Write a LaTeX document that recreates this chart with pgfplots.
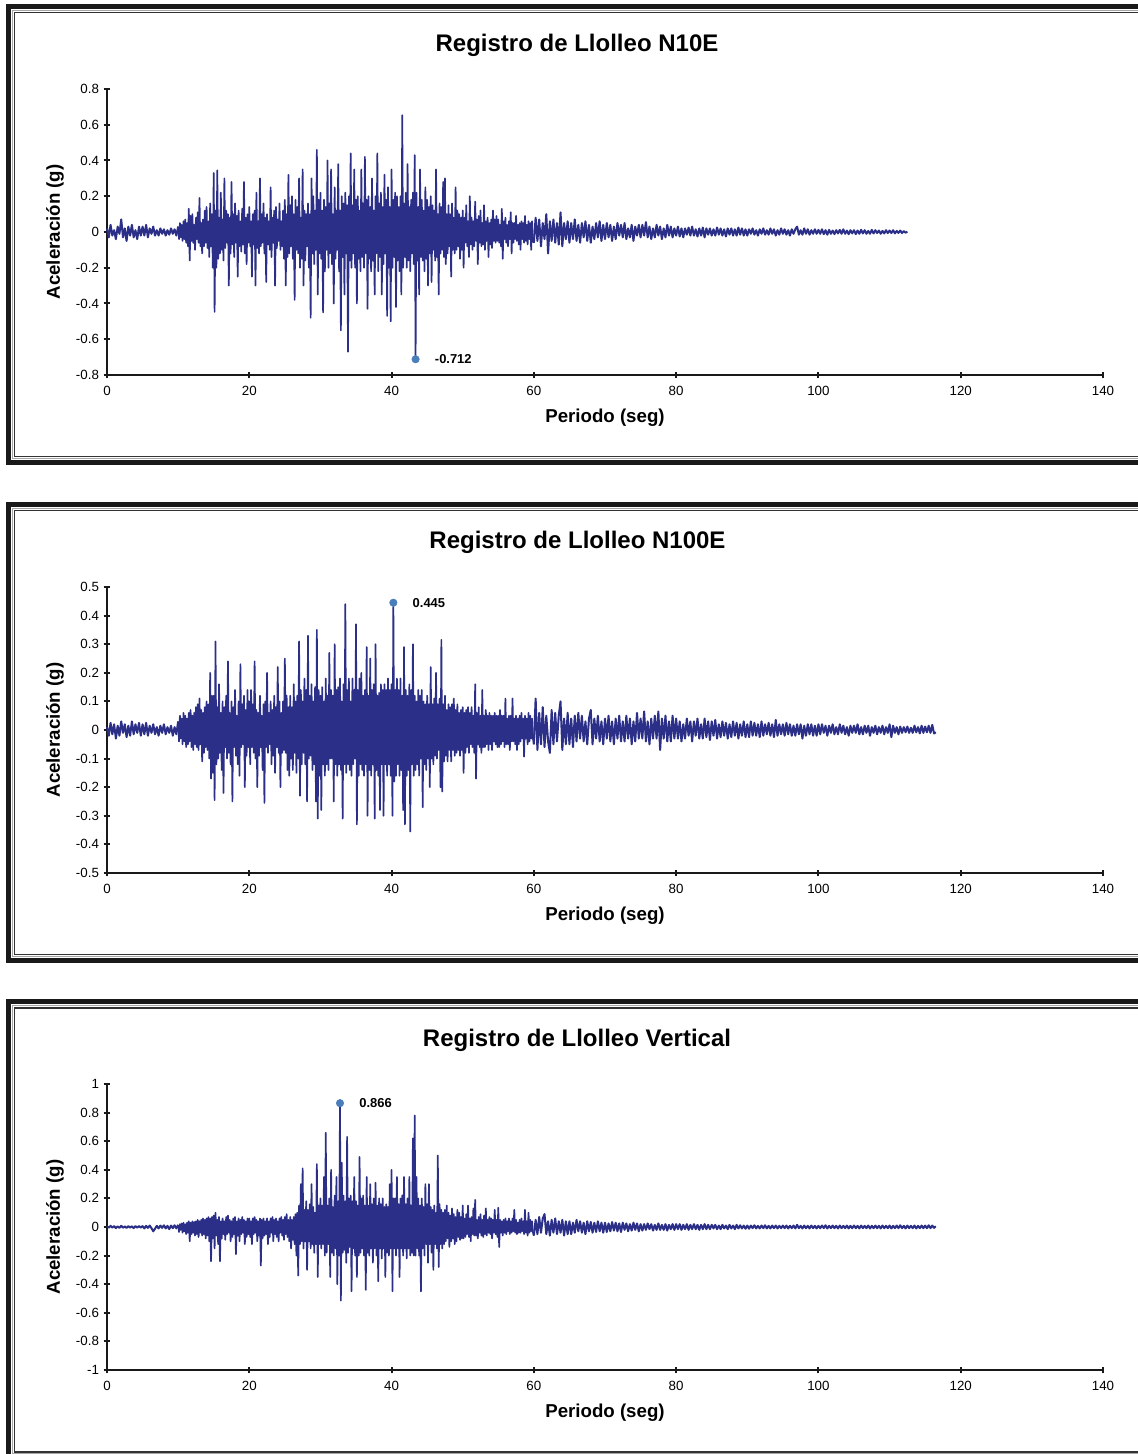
\documentclass[border=0pt]{standalone}
\usepackage{fontspec}
\setmainfont{Liberation Sans}
\usepackage{pgfplots}
\usepackage{pgfplotstable}
\pgfplotsset{compat=1.18}
\definecolor{seis}{RGB}{43,47,135}
\definecolor{peak}{RGB}{74,126,187}

% ===== Llolleo N10E =====
% 0-10 s, dt = 0.25 s
\pgfplotstableread[row sep=\\,header=false]{
0.02\\ -0.03\\ 0.04\\ -0.02\\ 0.01\\ -0.04\\ 0.03\\ -0.01\\ 0.07\\ -0.03\\ 0.02\\ -0.05\\ 0.03\\ -0.02\\ 0.04\\ -0.03\\ 0.01\\ -0.04\\ 0.03\\ -0.02\\
0.03\\ -0.02\\ 0.04\\ -0.03\\ 0.02\\ -0.01\\ 0.03\\ -0.02\\ 0.01\\ -0.02\\ 0.02\\ -0.01\\ 0.015\\ -0.02\\ 0.01\\ -0.015\\ 0.02\\ -0.01\\ 0.015\\ -0.02\\
0.03\\
}\dataAa
% 10-60 s, dt = 0.125 s
\pgfplotstableread[row sep=\\,header=false]{
0.03\\ -0.04\\ 0.05\\ -0.03\\ 0.04\\ -0.05\\ 0.06\\ -0.04\\ 0.07\\ -0.06\\ 0.05\\ -0.08\\ 0.13\\ -0.16\\ 0.09\\ -0.05\\ 0.1\\ -0.06\\ 0.04\\ -0.1\\ 0.08\\ -0.04\\ 0.11\\ -0.06\\ 0.19\\ -0.08\\ 0.05\\ -0.12\\ 0.07\\ -0.08\\ 0.12\\ -0.06\\ 0.14\\ -0.09\\ 0.06\\ -0.14\\ 0.16\\ -0.08\\ 0.1\\ -0.2\\
0.33\\ -0.447\\ 0.12\\ -0.2\\ 0.345\\ -0.15\\ 0.08\\ -0.12\\ 0.22\\ -0.1\\ 0.07\\ -0.16\\ 0.3\\ -0.09\\ 0.12\\ -0.06\\ 0.1\\ -0.3\\ 0.08\\ -0.12\\ 0.28\\ -0.07\\ 0.1\\ -0.14\\ 0.16\\ -0.06\\ 0.09\\ -0.25\\ 0.12\\ -0.08\\ 0.06\\ -0.11\\ 0.13\\ -0.07\\ 0.28\\ -0.12\\ 0.08\\ -0.18\\ 0.1\\ -0.06\\
0.14\\ -0.08\\ 0.06\\ -0.25\\ 0.1\\ -0.07\\ 0.12\\ -0.3\\ 0.22\\ -0.09\\ 0.06\\ -0.12\\ 0.3\\ -0.08\\ 0.1\\ -0.06\\ 0.16\\ -0.12\\ 0.08\\ -0.28\\ 0.1\\ -0.07\\ 0.06\\ -0.1\\ 0.25\\ -0.14\\ 0.08\\ -0.06\\ 0.12\\ -0.3\\ 0.14\\ -0.09\\ 0.07\\ -0.05\\ 0.16\\ -0.1\\ 0.06\\ -0.08\\ 0.12\\ -0.15\\
0.18\\ -0.3\\ 0.1\\ -0.14\\ 0.32\\ -0.12\\ 0.15\\ -0.08\\ 0.2\\ -0.15\\ 0.1\\ -0.38\\ 0.18\\ -0.1\\ 0.14\\ -0.12\\ 0.3\\ -0.2\\ 0.08\\ -0.15\\ 0.35\\ -0.3\\ 0.12\\ -0.16\\ 0.1\\ -0.08\\ 0.16\\ -0.2\\ 0.1\\ -0.48\\ 0.3\\ -0.12\\ 0.2\\ -0.18\\ 0.12\\ -0.1\\ 0.46\\ -0.35\\ 0.18\\ -0.12\\
0.22\\ -0.15\\ 0.12\\ -0.45\\ 0.18\\ -0.22\\ 0.14\\ -0.1\\ 0.4\\ -0.2\\ 0.16\\ -0.12\\ 0.35\\ -0.18\\ 0.1\\ -0.4\\ 0.25\\ -0.15\\ 0.12\\ -0.1\\ 0.38\\ -0.22\\ 0.12\\ -0.55\\ 0.2\\ -0.14\\ 0.16\\ -0.35\\ 0.22\\ -0.12\\ 0.15\\ -0.67\\ 0.2\\ -0.16\\ 0.44\\ -0.2\\ 0.15\\ -0.12\\ 0.35\\ -0.2\\
0.18\\ -0.4\\ 0.2\\ -0.15\\ 0.12\\ -0.22\\ 0.35\\ -0.14\\ 0.16\\ -0.2\\ 0.42\\ -0.12\\ 0.18\\ -0.43\\ 0.2\\ -0.15\\ 0.14\\ -0.22\\ 0.3\\ -0.16\\ 0.12\\ -0.35\\ 0.2\\ -0.12\\ 0.44\\ -0.22\\ 0.16\\ -0.14\\ 0.22\\ -0.35\\ 0.14\\ -0.18\\ 0.32\\ -0.12\\ 0.18\\ -0.47\\ 0.25\\ -0.2\\ 0.14\\ -0.5\\
0.35\\ -0.2\\ 0.18\\ -0.14\\ 0.22\\ -0.42\\ 0.2\\ -0.16\\ 0.14\\ -0.22\\ 0.2\\ -0.35\\ 0.653\\ -0.2\\ 0.16\\ -0.14\\ 0.22\\ -0.2\\ 0.38\\ -0.16\\ 0.14\\ -0.22\\ 0.18\\ -0.12\\ 0.22\\ -0.18\\ 0.43\\ -0.712\\ 0.22\\ -0.16\\ 0.14\\ -0.35\\ 0.35\\ -0.14\\ 0.18\\ -0.16\\ 0.12\\ -0.22\\ 0.25\\ -0.15\\
0.18\\ -0.3\\ 0.14\\ -0.12\\ 0.2\\ -0.28\\ 0.15\\ -0.1\\ 0.12\\ -0.16\\ 0.35\\ -0.14\\ 0.1\\ -0.35\\ 0.16\\ -0.12\\ 0.14\\ -0.1\\ 0.28\\ -0.14\\ 0.3\\ -0.18\\ 0.1\\ -0.12\\ 0.15\\ -0.08\\ 0.1\\ -0.25\\ 0.16\\ -0.1\\ 0.08\\ -0.12\\ 0.25\\ -0.1\\ 0.12\\ -0.08\\ 0.1\\ -0.15\\ 0.08\\ -0.1\\
0.12\\ -0.2\\ 0.08\\ -0.06\\ 0.15\\ -0.08\\ 0.06\\ -0.14\\ 0.2\\ -0.07\\ 0.08\\ -0.1\\ 0.06\\ -0.08\\ 0.17\\ -0.05\\ 0.07\\ -0.18\\ 0.09\\ -0.06\\ 0.12\\ -0.08\\ 0.05\\ -0.07\\ 0.15\\ -0.1\\ 0.06\\ -0.05\\ 0.08\\ -0.14\\ 0.05\\ -0.07\\ 0.07\\ -0.09\\ 0.12\\ -0.05\\ 0.07\\ -0.06\\ 0.09\\ -0.05\\
0.07\\ -0.06\\ 0.04\\ -0.08\\ 0.13\\ -0.15\\ 0.06\\ -0.04\\ 0.08\\ -0.06\\ 0.04\\ -0.08\\ 0.06\\ -0.04\\ 0.11\\ -0.12\\ 0.05\\ -0.06\\ 0.05\\ -0.04\\ 0.09\\ -0.05\\ 0.04\\ -0.07\\ 0.05\\ -0.1\\ 0.06\\ -0.04\\ 0.05\\ -0.06\\ 0.09\\ -0.05\\ 0.04\\ -0.07\\ 0.06\\ -0.04\\ 0.05\\ -0.1\\ 0.06\\ -0.05\\
-0.06\\
}\dataAb
% 60-112.5 s, dt = 0.25 s
\pgfplotstableread[row sep=\\,header=false]{
-0.06\\ 0.08\\ -0.05\\ 0.07\\ -0.08\\ 0.05\\ -0.04\\ 0.1\\ -0.12\\ 0.06\\ -0.05\\ 0.07\\ -0.06\\ 0.05\\ -0.07\\ 0.11\\ -0.08\\ 0.05\\ -0.04\\ 0.06\\
-0.06\\ 0.05\\ -0.04\\ 0.07\\ -0.05\\ 0.04\\ -0.06\\ 0.05\\ -0.03\\ 0.06\\ -0.05\\ 0.04\\ -0.06\\ 0.03\\ -0.04\\ 0.05\\ -0.03\\ 0.06\\ -0.05\\ 0.04\\
-0.04\\ 0.05\\ -0.03\\ 0.04\\ -0.05\\ 0.03\\ -0.04\\ 0.05\\ -0.02\\ 0.04\\ -0.03\\ 0.05\\ -0.04\\ 0.02\\ -0.03\\ 0.04\\ -0.05\\ 0.03\\ -0.02\\ 0.04\\
-0.03\\ 0.04\\ -0.02\\ 0.055\\ -0.03\\ 0.03\\ -0.04\\ 0.02\\ -0.03\\ 0.04\\ -0.02\\ 0.03\\ -0.04\\ 0.02\\ -0.03\\ 0.04\\ -0.02\\ 0.03\\ -0.03\\ 0.02\\
-0.02\\ 0.03\\ -0.025\\ 0.02\\ -0.03\\ 0.02\\ -0.015\\ 0.025\\ -0.02\\ 0.03\\ -0.02\\ 0.015\\ -0.025\\ 0.02\\ -0.02\\ 0.025\\ -0.03\\ 0.02\\ -0.015\\ 0.02\\
-0.02\\ 0.015\\ -0.02\\ 0.025\\ -0.015\\ 0.02\\ -0.02\\ 0.015\\ -0.025\\ 0.02\\ -0.015\\ 0.02\\ -0.02\\ 0.015\\ -0.02\\ 0.025\\ -0.015\\ 0.02\\ -0.02\\ 0.015\\
-0.02\\ 0.015\\ -0.01\\ 0.02\\ -0.015\\ 0.01\\ -0.02\\ 0.015\\ -0.01\\ 0.02\\ -0.015\\ 0.01\\ -0.015\\ 0.02\\ -0.01\\ 0.015\\ -0.02\\ 0.01\\ -0.015\\ 0.02\\
-0.01\\ 0.015\\ -0.015\\ 0.01\\ -0.02\\ 0.015\\ -0.01\\ 0.015\\ 0.03\\ -0.015\\ 0.01\\ -0.015\\ 0.02\\ -0.01\\ 0.015\\ -0.015\\ 0.01\\ -0.01\\ 0.015\\ -0.01\\
0.012\\ -0.01\\ 0.015\\ -0.012\\ 0.01\\ -0.015\\ 0.012\\ -0.01\\ 0.008\\ -0.012\\ 0.01\\ -0.008\\ 0.012\\ -0.01\\ 0.015\\ -0.01\\ 0.008\\ -0.012\\ 0.01\\ -0.008\\
0.01\\ -0.012\\ 0.008\\ -0.01\\ 0.012\\ -0.008\\ 0.01\\ -0.01\\ 0.006\\ -0.01\\ 0.012\\ -0.008\\ 0.01\\ -0.006\\ 0.008\\ -0.01\\ 0.006\\ -0.008\\ 0.01\\ -0.006\\
0.008\\ -0.006\\ 0.01\\ -0.008\\ 0.006\\ -0.005\\ 0.008\\ -0.006\\ 0.005\\ -0.004\\ 0.002\\
}\dataAc

% ===== Llolleo N100E =====
\pgfplotstableread[row sep=\\,header=false]{
0.01\\ -0.02\\ 0.025\\ -0.015\\ 0.02\\ -0.03\\ 0.015\\ -0.02\\ 0.03\\ -0.01\\ 0.02\\ -0.025\\ 0.015\\ -0.02\\ 0.03\\ -0.015\\ 0.02\\ -0.01\\ 0.025\\ -0.02\\
0.02\\ -0.015\\ 0.025\\ -0.02\\ 0.015\\ -0.01\\ 0.02\\ -0.015\\ 0.01\\ -0.02\\ 0.015\\ -0.01\\ 0.02\\ -0.015\\ 0.01\\ -0.01\\ 0.015\\ -0.02\\ 0.01\\ -0.015\\
0.03\\
}\dataBa
\pgfplotstableread[row sep=\\,header=false]{
0.03\\ -0.04\\ 0.05\\ -0.03\\ 0.04\\ -0.05\\ 0.06\\ -0.04\\ 0.05\\ -0.06\\ 0.04\\ -0.05\\ 0.06\\ -0.04\\ 0.07\\ -0.06\\ 0.05\\ -0.07\\ 0.06\\ -0.05\\ 0.08\\ -0.06\\ 0.09\\ -0.07\\ 0.11\\ -0.05\\ 0.07\\ -0.11\\ 0.06\\ -0.08\\ 0.08\\ -0.06\\ 0.1\\ -0.07\\ 0.09\\ -0.1\\ 0.2\\ -0.17\\ 0.12\\ -0.15\\
0.12\\ -0.245\\ 0.31\\ -0.12\\ 0.08\\ -0.1\\ 0.16\\ -0.08\\ 0.06\\ -0.14\\ 0.1\\ -0.22\\ 0.08\\ -0.06\\ 0.12\\ -0.1\\ 0.24\\ -0.08\\ 0.06\\ -0.12\\ 0.1\\ -0.25\\ 0.08\\ -0.06\\ 0.14\\ -0.09\\ 0.05\\ -0.12\\ 0.1\\ -0.16\\ 0.23\\ -0.06\\ 0.09\\ -0.05\\ 0.12\\ -0.2\\ 0.07\\ -0.09\\ 0.14\\ -0.06\\
0.1\\ -0.12\\ 0.14\\ -0.06\\ 0.09\\ -0.08\\ 0.24\\ -0.1\\ 0.07\\ -0.2\\ 0.06\\ -0.09\\ 0.12\\ -0.06\\ 0.05\\ -0.14\\ 0.09\\ -0.255\\ 0.1\\ -0.06\\ 0.2\\ -0.08\\ 0.06\\ -0.05\\ 0.1\\ -0.12\\ 0.07\\ -0.09\\ 0.12\\ -0.15\\ 0.08\\ -0.06\\ 0.22\\ -0.08\\ 0.1\\ -0.2\\ 0.06\\ -0.08\\ 0.1\\ -0.07\\
0.25\\ -0.08\\ 0.12\\ -0.14\\ 0.08\\ -0.16\\ 0.12\\ -0.1\\ 0.08\\ -0.14\\ 0.16\\ -0.08\\ 0.1\\ -0.15\\ 0.12\\ -0.1\\ 0.31\\ -0.23\\ 0.14\\ -0.12\\ 0.1\\ -0.08\\ 0.18\\ -0.12\\ 0.14\\ -0.25\\ 0.33\\ -0.1\\ 0.12\\ -0.09\\ 0.16\\ -0.14\\ 0.1\\ -0.12\\ 0.15\\ -0.25\\ 0.35\\ -0.31\\ 0.14\\ -0.16\\
0.12\\ -0.28\\ 0.15\\ -0.12\\ 0.1\\ -0.16\\ 0.18\\ -0.12\\ 0.12\\ -0.14\\ 0.27\\ -0.1\\ 0.14\\ -0.1\\ 0.12\\ -0.25\\ 0.3\\ -0.12\\ 0.14\\ -0.16\\ 0.15\\ -0.12\\ 0.18\\ -0.14\\ 0.1\\ -0.31\\ 0.16\\ -0.12\\ 0.44\\ -0.15\\ 0.14\\ -0.12\\ 0.18\\ -0.14\\ 0.1\\ -0.16\\ 0.18\\ -0.12\\ 0.14\\ -0.1\\
0.37\\ -0.33\\ 0.14\\ -0.16\\ 0.18\\ -0.12\\ 0.2\\ -0.14\\ 0.12\\ -0.16\\ 0.14\\ -0.12\\ 0.29\\ -0.3\\ 0.12\\ -0.14\\ 0.25\\ -0.16\\ 0.14\\ -0.12\\ 0.16\\ -0.31\\ 0.3\\ -0.14\\ 0.12\\ -0.16\\ 0.13\\ -0.28\\ 0.16\\ -0.12\\ 0.14\\ -0.3\\ 0.16\\ -0.12\\ 0.14\\ -0.16\\ 0.18\\ -0.12\\ 0.14\\ -0.16\\
0.16\\ -0.3\\ 0.445\\ -0.18\\ 0.14\\ -0.16\\ 0.18\\ -0.12\\ 0.14\\ -0.16\\ 0.18\\ -0.14\\ 0.12\\ -0.28\\ 0.29\\ -0.33\\ 0.14\\ -0.16\\ 0.12\\ -0.14\\ 0.16\\ -0.355\\ 0.14\\ -0.12\\ 0.3\\ -0.16\\ 0.12\\ -0.14\\ 0.1\\ -0.12\\ 0.14\\ -0.16\\ 0.12\\ -0.1\\ 0.14\\ -0.27\\ 0.1\\ -0.12\\ 0.09\\ -0.14\\
0.12\\ -0.1\\ 0.09\\ -0.2\\ 0.22\\ -0.1\\ 0.09\\ -0.12\\ 0.11\\ -0.09\\ 0.2\\ -0.1\\ 0.09\\ -0.07\\ 0.11\\ -0.2\\ 0.315\\ -0.215\\ 0.09\\ -0.11\\ 0.12\\ -0.09\\ 0.07\\ -0.11\\ 0.09\\ -0.07\\ 0.08\\ -0.11\\ 0.09\\ -0.07\\ 0.11\\ -0.09\\ 0.07\\ -0.08\\ 0.09\\ -0.07\\ 0.06\\ -0.09\\ 0.07\\ -0.07\\
0.08\\ -0.15\\ 0.06\\ -0.08\\ 0.07\\ -0.06\\ 0.08\\ -0.08\\ 0.06\\ -0.05\\ 0.08\\ -0.06\\ 0.05\\ -0.08\\ 0.16\\ -0.17\\ 0.06\\ -0.05\\ 0.08\\ -0.06\\ 0.05\\ -0.08\\ 0.14\\ -0.06\\ 0.05\\ -0.06\\ 0.07\\ -0.05\\ 0.05\\ -0.07\\ 0.06\\ -0.05\\ 0.05\\ -0.07\\ 0.05\\ -0.04\\ 0.06\\ -0.05\\ 0.05\\ -0.06\\
0.05\\ -0.06\\ 0.07\\ -0.05\\ 0.05\\ -0.04\\ 0.05\\ -0.06\\ 0.11\\ -0.05\\ 0.04\\ -0.05\\ 0.05\\ -0.07\\ 0.05\\ -0.04\\ 0.11\\ -0.04\\ 0.04\\ -0.05\\ 0.05\\ -0.07\\ 0.04\\ -0.05\\ 0.05\\ -0.04\\ 0.06\\ -0.03\\ 0.04\\ -0.093\\ 0.05\\ -0.03\\ 0.04\\ -0.05\\ 0.06\\ -0.04\\ 0.05\\ -0.03\\ 0.04\\ -0.03\\
-0.05\\
}\dataBb
\pgfplotstableread[row sep=\\,header=false]{
-0.05\\ 0.11\\ -0.07\\ 0.06\\ -0.05\\ 0.08\\ -0.06\\ 0.05\\ -0.04\\ -0.08\\ 0.07\\ -0.05\\ 0.06\\ -0.04\\ 0.05\\ 0.1\\ -0.07\\ 0.04\\ -0.05\\ 0.06\\
-0.05\\ 0.04\\ -0.06\\ 0.05\\ -0.04\\ 0.06\\ -0.03\\ 0.05\\ -0.04\\ 0.03\\ -0.05\\ 0.04\\ 0.07\\ -0.05\\ 0.04\\ -0.03\\ 0.05\\ -0.04\\ 0.03\\ -0.05\\
0.04\\ -0.03\\ 0.05\\ -0.04\\ 0.03\\ -0.05\\ 0.04\\ -0.03\\ 0.05\\ -0.04\\ 0.03\\ -0.04\\ 0.05\\ -0.03\\ 0.04\\ -0.05\\ 0.03\\ -0.04\\ 0.06\\ -0.03\\
0.04\\ -0.03\\ 0.065\\ -0.04\\ 0.03\\ -0.05\\ 0.04\\ -0.03\\ 0.05\\ -0.03\\ 0.065\\ -0.07\\ 0.04\\ -0.03\\ 0.05\\ -0.04\\ 0.03\\ -0.04\\ 0.05\\ -0.03\\
0.04\\ -0.03\\ 0.03\\ -0.04\\ 0.02\\ -0.03\\ 0.04\\ -0.02\\ 0.03\\ -0.04\\ 0.03\\ -0.02\\ 0.04\\ -0.03\\ 0.02\\ -0.03\\ 0.04\\ -0.025\\ 0.03\\ -0.035\\
0.03\\ -0.02\\ 0.035\\ -0.03\\ 0.02\\ -0.025\\ 0.03\\ -0.02\\ 0.025\\ -0.03\\ 0.02\\ -0.025\\ 0.03\\ -0.02\\ 0.025\\ -0.03\\ 0.02\\ -0.02\\ 0.03\\ -0.025\\
0.02\\ -0.025\\ 0.03\\ -0.02\\ 0.025\\ -0.02\\ 0.02\\ -0.025\\ 0.03\\ -0.02\\ 0.02\\ -0.015\\ 0.025\\ -0.02\\ 0.02\\ -0.025\\ 0.035\\ -0.02\\ 0.02\\ -0.015\\
0.02\\ -0.02\\ 0.025\\ -0.015\\ 0.02\\ -0.02\\ 0.015\\ -0.02\\ 0.02\\ -0.015\\ 0.02\\ -0.03\\ 0.015\\ -0.02\\ 0.02\\ -0.015\\ 0.02\\ -0.02\\ 0.015\\ -0.02\\
0.02\\ -0.015\\ 0.02\\ -0.01\\ 0.015\\ -0.02\\ 0.015\\ -0.01\\ 0.02\\ -0.015\\ 0.01\\ -0.015\\ 0.02\\ -0.01\\ 0.015\\ -0.015\\ 0.01\\ -0.02\\ 0.015\\ -0.01\\
0.015\\ -0.01\\ 0.02\\ -0.015\\ 0.01\\ -0.015\\ 0.015\\ -0.01\\ 0.015\\ -0.02\\ 0.01\\ -0.01\\ 0.015\\ -0.015\\ 0.01\\ -0.01\\ 0.015\\ -0.015\\ 0.01\\ -0.01\\
0.02\\ -0.025\\ 0.015\\ -0.01\\ 0.01\\ -0.015\\ 0.012\\ -0.01\\ 0.01\\ -0.008\\ 0.012\\ -0.01\\ 0.008\\ -0.01\\ 0.015\\ -0.008\\ 0.01\\ -0.012\\ 0.015\\ -0.01\\
0.012\\ -0.008\\ 0.015\\ -0.01\\ 0.018\\ -0.012\\ -0.008\\
}\dataBc

% ===== Llolleo Vertical =====
\pgfplotstableread[row sep=\\,header=false]{
0.005\\ -0.005\\ 0.008\\ -0.004\\ 0.006\\ -0.008\\ 0.004\\ -0.006\\ 0.008\\ -0.005\\ 0.004\\ -0.007\\ 0.006\\ -0.004\\ 0.005\\ -0.008\\ 0.006\\ -0.005\\ 0.007\\ -0.004\\
0.006\\ -0.01\\ 0.008\\ -0.006\\ 0.01\\ -0.008\\ -0.03\\ -0.012\\ 0.008\\ -0.01\\ 0.01\\ -0.006\\ 0.012\\ -0.01\\ 0.008\\ -0.015\\ 0.01\\ -0.008\\ 0.012\\ -0.01\\
0.015\\
}\dataCa
\pgfplotstableread[row sep=\\,header=false]{
0.015\\ -0.035\\ 0.02\\ -0.02\\ 0.025\\ -0.04\\ 0.03\\ -0.03\\ 0.02\\ -0.05\\ 0.03\\ -0.04\\ 0.04\\ -0.1\\ 0.03\\ -0.05\\ 0.04\\ -0.04\\ 0.035\\ -0.06\\ 0.04\\ -0.05\\ 0.05\\ -0.07\\ 0.04\\ -0.04\\ 0.05\\ -0.06\\ 0.06\\ -0.05\\ 0.05\\ -0.08\\ 0.06\\ -0.06\\ 0.07\\ -0.1\\ 0.06\\ -0.24\\ 0.07\\ -0.08\\
0.08\\ -0.15\\ 0.1\\ -0.06\\ 0.05\\ -0.12\\ 0.07\\ -0.24\\ 0.04\\ -0.08\\ 0.06\\ -0.05\\ 0.04\\ -0.09\\ 0.07\\ -0.05\\ 0.08\\ -0.04\\ 0.05\\ -0.1\\ 0.04\\ -0.07\\ 0.06\\ -0.05\\ 0.07\\ -0.19\\ 0.04\\ -0.06\\ 0.06\\ -0.1\\ 0.05\\ -0.05\\ 0.07\\ -0.04\\ 0.05\\ -0.12\\ 0.04\\ -0.07\\ 0.06\\ -0.05\\
0.06\\ -0.07\\ 0.04\\ -0.12\\ 0.06\\ -0.05\\ 0.07\\ -0.04\\ 0.05\\ -0.1\\ 0.04\\ -0.06\\ 0.06\\ -0.27\\ 0.05\\ -0.08\\ 0.06\\ -0.06\\ 0.04\\ -0.05\\ 0.06\\ -0.12\\ 0.04\\ -0.07\\ 0.06\\ -0.04\\ 0.07\\ -0.1\\ 0.05\\ -0.05\\ 0.06\\ -0.07\\ 0.04\\ -0.1\\ 0.06\\ -0.04\\ 0.07\\ -0.06\\ 0.05\\ -0.09\\
0.07\\ -0.05\\ 0.09\\ -0.07\\ 0.05\\ -0.1\\ 0.07\\ -0.15\\ 0.05\\ -0.09\\ 0.07\\ -0.12\\ 0.09\\ -0.2\\ 0.1\\ -0.34\\ 0.15\\ -0.12\\ 0.3\\ -0.1\\ 0.41\\ -0.15\\ 0.12\\ -0.1\\ 0.18\\ -0.3\\ 0.12\\ -0.1\\ 0.16\\ -0.15\\ 0.3\\ -0.12\\ 0.14\\ -0.18\\ 0.1\\ -0.12\\ 0.44\\ -0.35\\ 0.15\\ -0.12\\
0.2\\ -0.15\\ 0.15\\ -0.12\\ 0.35\\ -0.2\\ 0.66\\ -0.18\\ 0.15\\ -0.12\\ 0.2\\ -0.35\\ 0.4\\ -0.18\\ 0.14\\ -0.2\\ 0.22\\ -0.15\\ 0.35\\ -0.4\\ 0.18\\ -0.2\\ 0.866\\ -0.515\\ 0.45\\ -0.18\\ 0.22\\ -0.16\\ 0.18\\ -0.25\\ 0.63\\ -0.18\\ 0.2\\ -0.14\\ 0.22\\ -0.45\\ 0.18\\ -0.15\\ 0.35\\ -0.2\\
0.18\\ -0.35\\ 0.15\\ -0.2\\ 0.49\\ -0.18\\ 0.2\\ -0.15\\ 0.22\\ -0.2\\ 0.15\\ -0.44\\ 0.35\\ -0.18\\ 0.15\\ -0.2\\ 0.3\\ -0.15\\ 0.16\\ -0.25\\ 0.2\\ -0.15\\ 0.31\\ -0.2\\ 0.15\\ -0.38\\ 0.2\\ -0.15\\ 0.16\\ -0.22\\ 0.2\\ -0.15\\ 0.14\\ -0.35\\ 0.16\\ -0.18\\ 0.14\\ -0.2\\ 0.3\\ -0.15\\
0.4\\ -0.45\\ 0.2\\ -0.15\\ 0.2\\ -0.2\\ 0.35\\ -0.15\\ 0.16\\ -0.35\\ 0.2\\ -0.15\\ 0.22\\ -0.2\\ 0.35\\ -0.15\\ 0.16\\ -0.22\\ 0.2\\ -0.15\\ 0.35\\ -0.2\\ 0.15\\ -0.18\\ 0.62\\ -0.2\\ 0.78\\ -0.2\\ 0.35\\ -0.15\\ 0.2\\ -0.2\\ 0.15\\ -0.45\\ 0.2\\ -0.15\\ 0.14\\ -0.2\\ 0.3\\ -0.12\\
0.16\\ -0.25\\ 0.3\\ -0.12\\ 0.14\\ -0.18\\ 0.12\\ -0.3\\ 0.15\\ -0.12\\ 0.1\\ -0.15\\ 0.5\\ -0.28\\ 0.16\\ -0.12\\ 0.12\\ -0.15\\ 0.1\\ -0.12\\ 0.12\\ -0.1\\ 0.15\\ -0.08\\ 0.1\\ -0.14\\ 0.08\\ -0.1\\ 0.13\\ -0.08\\ 0.09\\ -0.12\\ 0.07\\ -0.1\\ 0.12\\ -0.07\\ 0.1\\ -0.09\\ 0.07\\ -0.08\\
0.15\\ -0.08\\ 0.06\\ -0.07\\ 0.09\\ -0.05\\ 0.15\\ -0.07\\ 0.06\\ -0.1\\ 0.07\\ -0.05\\ 0.13\\ -0.06\\ 0.19\\ -0.06\\ 0.05\\ -0.08\\ 0.07\\ -0.04\\ 0.09\\ -0.06\\ 0.05\\ -0.07\\ 0.08\\ -0.05\\ 0.13\\ -0.06\\ 0.05\\ -0.04\\ 0.07\\ -0.05\\ 0.06\\ -0.08\\ 0.05\\ -0.04\\ 0.12\\ -0.05\\ 0.05\\ -0.07\\
0.135\\ -0.14\\ 0.05\\ -0.04\\ 0.04\\ -0.06\\ 0.05\\ -0.04\\ 0.06\\ -0.05\\ 0.04\\ -0.03\\ 0.06\\ -0.05\\ 0.04\\ -0.04\\ 0.06\\ -0.03\\ 0.12\\ -0.04\\ 0.05\\ -0.05\\ 0.03\\ -0.04\\ 0.05\\ -0.04\\ 0.06\\ -0.03\\ 0.04\\ -0.05\\ 0.12\\ -0.04\\ 0.04\\ -0.06\\ 0.1\\ -0.04\\ 0.05\\ -0.03\\ 0.04\\ -0.04\\
-0.06\\
}\dataCb
\pgfplotstableread[row sep=\\,header=false]{
-0.06\\ 0.05\\ -0.05\\ 0.07\\ -0.04\\ 0.06\\ 0.09\\ -0.05\\ 0.04\\ -0.06\\ 0.05\\ -0.04\\ 0.06\\ -0.05\\ 0.04\\ -0.04\\ 0.05\\ -0.06\\ 0.04\\ -0.05\\
0.04\\ -0.05\\ 0.03\\ -0.04\\ 0.05\\ -0.03\\ 0.04\\ -0.04\\ 0.03\\ -0.05\\ 0.04\\ -0.03\\ 0.035\\ -0.04\\ 0.03\\ -0.035\\ 0.04\\ -0.03\\ 0.03\\ -0.04\\
0.03\\ -0.035\\ 0.025\\ -0.03\\ 0.035\\ -0.025\\ 0.03\\ -0.03\\ 0.025\\ -0.035\\ 0.03\\ -0.02\\ 0.025\\ -0.03\\ 0.02\\ -0.025\\ 0.03\\ -0.02\\ 0.025\\ -0.03\\
0.02\\ -0.025\\ 0.02\\ -0.02\\ 0.025\\ -0.015\\ 0.02\\ -0.025\\ 0.015\\ -0.02\\ 0.025\\ -0.02\\ 0.015\\ -0.02\\ 0.02\\ -0.025\\ 0.015\\ -0.015\\ 0.02\\ -0.02\\
0.02\\ -0.015\\ 0.02\\ -0.02\\ 0.015\\ -0.015\\ 0.02\\ -0.02\\ 0.015\\ -0.015\\ 0.02\\ -0.015\\ 0.015\\ -0.02\\ 0.015\\ -0.015\\ 0.02\\ -0.015\\ 0.015\\ -0.015\\
0.015\\ -0.01\\ 0.015\\ -0.015\\ 0.01\\ -0.015\\ 0.015\\ -0.01\\ 0.01\\ -0.015\\ 0.015\\ -0.01\\ 0.01\\ -0.015\\ 0.015\\ -0.01\\ 0.012\\ -0.01\\ 0.01\\ -0.012\\
0.01\\ -0.012\\ 0.01\\ -0.008\\ 0.012\\ -0.01\\ 0.008\\ -0.01\\ 0.01\\ -0.008\\ 0.012\\ -0.01\\ 0.008\\ -0.01\\ 0.01\\ -0.008\\ 0.01\\ -0.01\\ 0.008\\ -0.008\\
0.01\\ -0.008\\ 0.01\\ -0.01\\ 0.008\\ -0.008\\ 0.01\\ -0.01\\ 0.015\\ -0.008\\ 0.008\\ -0.01\\ 0.01\\ -0.008\\ 0.008\\ -0.01\\ 0.01\\ -0.008\\ 0.008\\ -0.01\\
0.008\\ -0.008\\ 0.01\\ -0.008\\ 0.012\\ -0.01\\ 0.008\\ -0.008\\ 0.01\\ -0.008\\ 0.008\\ -0.01\\ 0.01\\ -0.008\\ 0.008\\ -0.008\\ 0.01\\ -0.01\\ 0.008\\ -0.008\\
0.01\\ -0.008\\ 0.008\\ -0.01\\ 0.01\\ -0.008\\ 0.008\\ -0.008\\ 0.01\\ -0.01\\ 0.008\\ -0.008\\ 0.01\\ -0.008\\ 0.008\\ -0.01\\ 0.01\\ -0.008\\ 0.008\\ -0.008\\
0.01\\ -0.01\\ 0.008\\ -0.008\\ 0.01\\ -0.008\\ 0.012\\ -0.008\\ 0.008\\ -0.01\\ 0.01\\ -0.008\\ 0.008\\ -0.008\\ 0.01\\ -0.01\\ 0.008\\ -0.008\\ 0.01\\ -0.008\\
0.01\\ -0.008\\ 0.012\\ -0.008\\ 0.01\\ -0.006\\ 0.005\\
}\dataCc

\pgfplotsset{
  seisaxis/.style={
    scale only axis, width=747pt, height=214.5pt,
    anchor=south west,
    xmin=0, xmax=140, xtick={0,20,40,60,80,100,120,140},
    axis lines=left,
    axis line style={-, line width=1.5pt, black!90},
    x axis line style={-}, y axis line style={-},
    tick align=center, major tick length=5pt,
    tick style={line width=1.5pt, black!90},
    ticklabel style={font=\fontsize{10}{12}\selectfont, black},
    xticklabel style={yshift=-2.5pt},
    /pgf/number format/assume math mode=true,
    xlabel={Periodo (seg)}, ylabel={Aceleración (g)},
    every axis x label/.style={at={(axis description cs:0.5,-0.150)}, anchor=center,
      font=\bfseries\fontsize{14}{16}\selectfont},
    every axis y label/.style={at={(axis description cs:-0.0522,0.5)}, anchor=center, rotate=90,
      font=\bfseries\fontsize{14}{16}\selectfont},
    clip=false,
  },
  seisline/.style={seis, line width=1.25pt, line join=round},
  seistail/.style={seis, line width=1.5pt, line join=round},
  peakmark/.style={only marks, mark=*, mark size=2.8pt, mark options={fill=peak, draw=peak}},
}

\begin{document}
\begin{tikzpicture}
\useasboundingbox[fill=white] (0,0) rectangle (853.5pt,1090.5pt);

% frames (coordinates in reference pixels), overlay so they do not grow the page
\begin{scope}[overlay, shift={(0pt,1090.5pt)}, x=0.75pt, y=-0.75pt]
\foreach \o in {0,498,995.5}{
  \draw[line width=3.75pt, black!90] (1170,\o+6.5) -- (8.5,\o+6.5) -- (8.5,\o+462.5) -- (1170,\o+462.5);
  \draw[line width=0.75pt, black!35] (1170,\o+10.5) -- (12.5,\o+10.5) -- (12.5,\o+458.5) -- (1170,\o+458.5);
  \draw[line width=0.9pt, black!80] (1170,\o+12.5) -- (14.5,\o+12.5) -- (14.5,\o+456.5) -- (1170,\o+456.5);
}
\end{scope}

% titles
\node[font=\bfseries\fontsize{18}{20}\selectfont] at (432.75pt,1056.75pt) {Registro de Llolleo N10E};
\node[font=\bfseries\fontsize{18}{20}\selectfont] at (433.1pt,684pt) {Registro de Llolleo N100E};
\node[font=\bfseries\fontsize{18}{20}\selectfont] at (432.75pt,310.5pt) {Registro de Llolleo Vertical};

% panel 1
\begin{axis}[seisaxis, at={(80.25pt,809.25pt)},
  ymin=-0.8, ymax=0.8, ytick={-0.8,-0.6,-0.4,-0.2,0,0.2,0.4,0.6,0.8}]
\addplot[seistail] table[x expr=\coordindex*0.25, y index=0] {\dataAa};
\addplot[seisline] table[x expr=10+\coordindex*0.125, y index=0] {\dataAb};
\addplot[seistail] table[x expr=60+\coordindex*0.25, y index=0] {\dataAc};
\addplot[peakmark] coordinates {(43.375,-0.712)};
\node[anchor=west, font=\bfseries\fontsize{9.7}{11}\selectfont] at (axis cs:43.375,-0.712) [xshift=11pt] {-0.712};
\end{axis}

% panel 2
\begin{axis}[seisaxis, at={(80.25pt,435.75pt)},
  ymin=-0.5, ymax=0.5, ytick={-0.5,-0.4,-0.3,-0.2,-0.1,0,0.1,0.2,0.3,0.4,0.5}]
\addplot[seistail] table[x expr=\coordindex*0.25, y index=0] {\dataBa};
\addplot[seisline] table[x expr=10+\coordindex*0.125, y index=0] {\dataBb};
\addplot[seistail] table[x expr=60+\coordindex*0.25, y index=0] {\dataBc};
\addplot[peakmark] coordinates {(40.25,0.445)};
\node[anchor=west, font=\bfseries\fontsize{9.7}{11}\selectfont] at (axis cs:40.25,0.445) [xshift=11pt] {0.445};
\end{axis}

% panel 3
\begin{axis}[seisaxis, at={(80.25pt,63pt)},
  ymin=-1, ymax=1, ytick={-1,-0.8,-0.6,-0.4,-0.2,0,0.2,0.4,0.6,0.8,1}]
\addplot[seistail] table[x expr=\coordindex*0.25, y index=0] {\dataCa};
\addplot[seisline] table[x expr=10+\coordindex*0.125, y index=0] {\dataCb};
\addplot[seistail] table[x expr=60+\coordindex*0.25, y index=0] {\dataCc};
\addplot[peakmark] coordinates {(32.75,0.866)};
\node[anchor=west, font=\bfseries\fontsize{9.7}{11}\selectfont] at (axis cs:32.75,0.866) [xshift=11pt] {0.866};
\end{axis}
\end{tikzpicture}
\end{document}
